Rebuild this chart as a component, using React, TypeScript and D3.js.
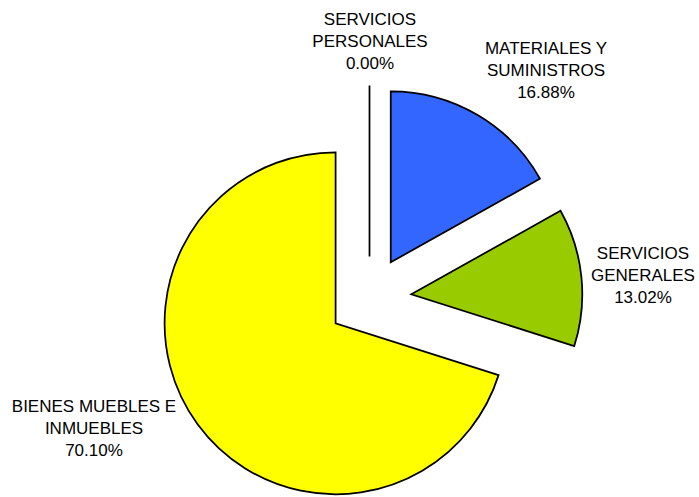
import React from "react";
import * as d3 from "d3";

const categories: string[][] = [
  ["SERVICIOS", "PERSONALES"],
  ["MATERIALES Y", "SUMINISTROS"],
  ["SERVICIOS", "GENERALES"],
  ["BIENES MUEBLES E", "INMUEBLES"],
];
const values: number[] = [0.0, 16.88, 13.02, 70.1];
const percentLabels: string[] = ["0.00%", "16.88%", "13.02%", "70.10%"];
const colors: string[] = ["#FFFFFF", "#3366FF", "#99CC00", "#FFFF00"];

// layout
const W = 699;
const H = 497;
const CX = 369.5;
const CY = 298.5;
const R = 171;
const EXPLODE = 42;
const labelAnchors: [number, number][] = [
  [370, 25],
  [546, 53.5],
  [643, 258.5],
  [94, 411.5],
];
const LINE_H = 22;

export default function App() {
  const pie = d3
    .pie<number>()
    .sort(null)
    .value((d) => d)
    .startAngle(0)
    .endAngle(2 * Math.PI);
  const arcs = pie(values);
  const arc = d3.arc<d3.PieArcDatum<number>>().innerRadius(0).outerRadius(R);

  return (
    <svg
      width={W}
      height={H}
      style={{ position: "absolute", left: 0, top: 0, display: "block" }}
      fontFamily="'Liberation Sans', Arial, sans-serif"
    >
      <rect width={W} height={H} fill="#fff" />
      {arcs.map((a, i) => {
        const mid = (a.startAngle + a.endAngle) / 2;
        const dx = EXPLODE * Math.sin(mid);
        const dy = -EXPLODE * Math.cos(mid);
        return (
          <path
            key={i}
            d={arc(a) || ""}
            transform={`translate(${CX + dx},${CY + dy})`}
            fill={colors[i]}
            stroke="#000"
            strokeWidth={1.75}
            strokeLinejoin="miter"
          />
        );
      })}
      {categories.map((lines, i) => {
        const [x, y] = labelAnchors[i];
        const all = [...lines, percentLabels[i]];
        return (
          <text key={i} x={x} y={y} textAnchor="middle" fontSize={17} fill="#000">
            {all.map((t, j) => (
              <tspan key={j} x={x} y={y + j * LINE_H}>
                {t}
              </tspan>
            ))}
          </text>
        );
      })}
    </svg>
  );
}
